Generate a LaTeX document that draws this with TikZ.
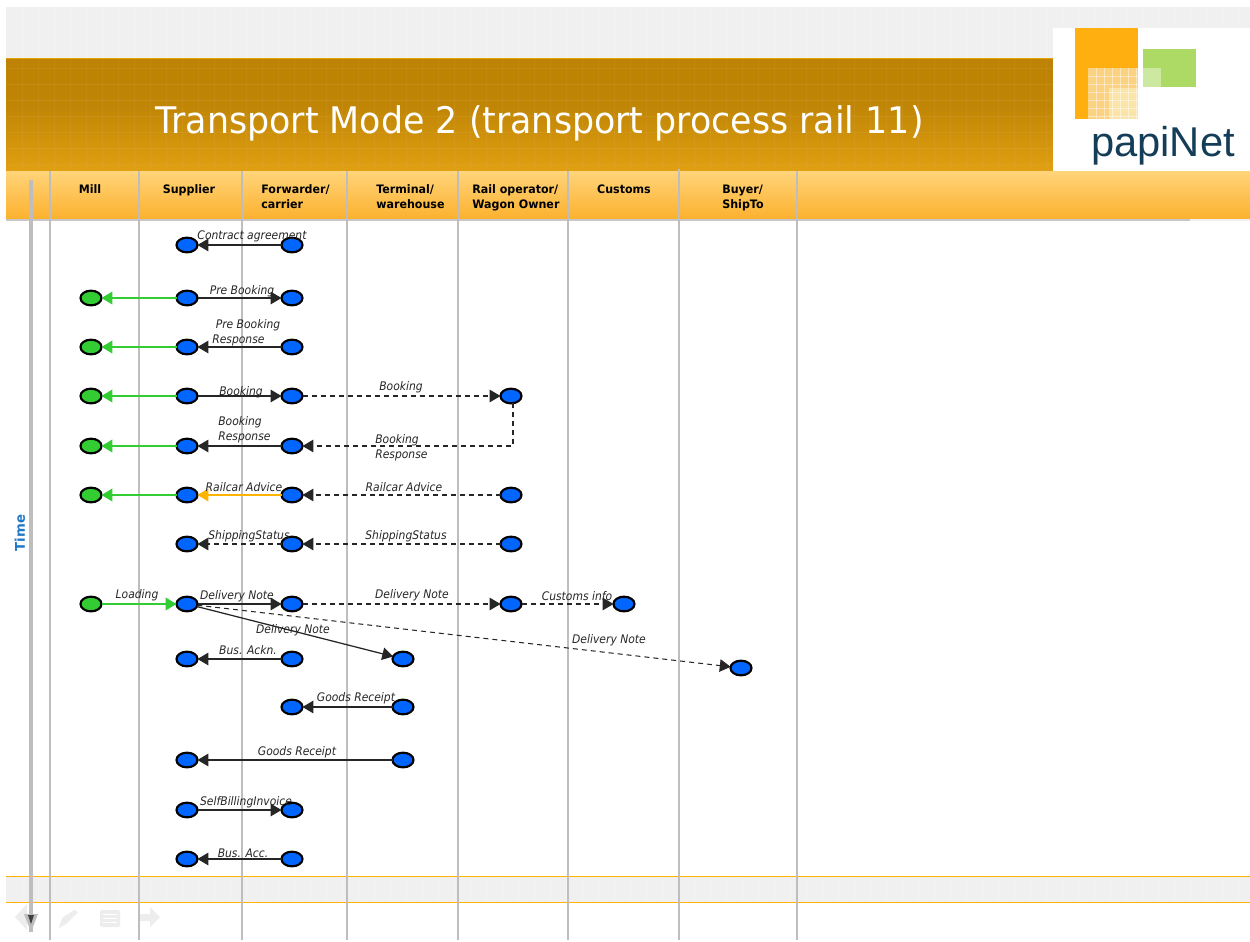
\documentclass[tikz,border=0pt]{standalone}
\usepackage{fontspec}
\setmainfont{DejaVu Sans}
\newfontfamily\titlefont[FakeStretch=0.95]{DejaVu Sans}
\newfontfamily\headfont[FakeStretch=0.95]{DejaVu Sans}
\newfontfamily\labelfont[FakeStretch=0.91]{DejaVu Sans}
\newfontfamily\logofont{Liberation Sans}
\usetikzlibrary{arrows.meta,calc,shapes.geometric}
\definecolor{bandgray}{HTML}{F0F0F0}
\definecolor{lifegray}{HTML}{BEBEBE}
\definecolor{nodeblue}{HTML}{0066FF}
\definecolor{nodegreen}{HTML}{33CC33}
\definecolor{msgorange}{HTML}{FFB400}
\definecolor{timeblue}{HTML}{1F78C8}
\tikzset{
  x=0.6pt,y=-0.6pt,
  blue node/.style={ellipse,draw=black,fill=nodeblue,line width=1.3pt,minimum width=12.6pt,minimum height=8.8pt,inner sep=0pt,outer sep=0pt},
  green node/.style={blue node,fill=nodegreen},
  msg/.style={draw=black!85,line width=0.75pt,-{Triangle[length=6.5pt,width=7.5pt]}},
  dmsg/.style={msg,line width=0.62pt,dash pattern=on 3pt off 2.4pt},
  gmsg/.style={draw=nodegreen,line width=1.2pt,-{Triangle[length=6.5pt,width=7.5pt]}},
  omsg/.style={draw=msgorange,line width=1.2pt,-{Triangle[length=6.5pt,width=7.5pt]}},
  lbl/.style={font=\labelfont\fontsize{7.1pt}{9pt}\selectfont\itshape,text=black!85,inner sep=0pt},
  lbll/.style={lbl,anchor=north west,align=left},
  hdr/.style={font=\headfont\fontsize{7pt}{9pt}\selectfont\bfseries,text=black,inner sep=0pt,align=left},
  life/.style={draw=lifegray,line width=1.2pt},
}
\begin{document}
\begin{tikzpicture}
\useasboundingbox (0,0) rectangle (1250,941);
\fill[white] (0,0) rectangle (1250,941);
% bands
\fill[bandgray] (6,7) rectangle (1250,58);
\fill[bandgray] (6,876) rectangle (1250,902);
\fill[black!22] (6,218) rectangle (1190,221);
\fill[bandgray] (1190,218) rectangle (1250,221);
\fill[color=msgorange] (6,875.5) rectangle (1250,876.5);
\fill[color=msgorange] (6,901.5) rectangle (1250,902.5);
\fill[color=msgorange!90!black] (6,57.5) rectangle (1053,59);
\shade[top color={rgb,255:red,190;green,130;blue,4},bottom color={rgb,255:red,192;green,133;blue,5}] (6,59) rectangle (1053,105);
\shade[top color={rgb,255:red,192;green,133;blue,5},bottom color={rgb,255:red,225;green,160;blue,18}] (6,105) rectangle (1053,171);
\shade[top color={rgb,255:red,255;green,212;blue,122},bottom color={rgb,255:red,252;green,178;blue,48}] (6,171) rectangle (1250,218);
% faint texture
\foreach \gx in {22,38,...,1050} {\draw[white,opacity=.05,line width=.4pt] (\gx,59) -- (\gx,171);}
\foreach \gy in {68,84,...,170} {\draw[white,opacity=.05,line width=.4pt] (6,\gy) -- (1053,\gy);}
\foreach \gx in {22,38,...,1250} {\draw[white,opacity=.3,line width=.4pt] (\gx,7) -- (\gx,58);\draw[white,opacity=.3,line width=.4pt] (\gx,877) -- (\gx,901);}
% logo
\fill[white] (1053,28) rectangle (1250,170);
\fill[color={rgb,255:red,255;green,176;blue,16}] (1075,28) rectangle (1138,119);
\fill[color={rgb,255:red,172;green,218;blue,100}] (1143,49) rectangle (1196,87);
\fill[color={rgb,255:red,250;green,210;blue,130}] (1088,68) rectangle (1138,119);
\fill[color={rgb,255:red,250;green,228;blue,170}] (1109,88) rectangle (1138,119);
\fill[color={rgb,255:red,205;green,232;blue,160}] (1143,68) rectangle (1161,87);
\foreach \gx in {1096,1104,...,1136} {\draw[white,opacity=.45,line width=.3pt] (\gx,68) -- (\gx,119);}
\foreach \gy in {76,84,...,116} {\draw[white,opacity=.45,line width=.3pt] (1088,\gy) -- (1138,\gy);}
\node[font=\logofont\fontsize{25pt}{26pt}\selectfont,text={rgb,255:red,20;green,62;blue,88},inner sep=0pt] (logotext) at (1163,146) {papiNet};
% title
\node[font=\titlefont\fontsize{22pt}{26pt}\selectfont,text=white,inner sep=0pt,anchor=base west] (title) at (155,133) {Transport Mode 2 (transport process rail 11)};
% headers
\node[hdr,anchor=base] (hMill) at (90,193) {Mill};
\node[hdr,anchor=base] (hSup) at (189,193) {Supplier};
\node[hdr,anchor=base west] (hFor) at (261,208) {Forwarder/\\carrier};
\node[hdr,anchor=base west] (hTer) at (376,208) {Terminal/\\warehouse};
\node[hdr,anchor=base west] (hRail) at (472,208) {Rail operator/\\Wagon Owner};
\node[hdr,anchor=base] (hCus) at (624,193) {Customs};
\node[hdr,anchor=base west] (hBuy) at (722,208) {Buyer/\\ShipTo};
% nav icons
\fill[black!7] (15,917) -- (27,904) -- (27,930) -- cycle;
\fill[black!7] (59,928) -- (62,918) -- (74,910) -- (78,912) -- (66,924) -- cycle;
\fill[black!7,rounded corners=1pt] (100,910) rectangle (120,927);
\foreach \gy in {914,918,922} {\draw[white,line width=.5pt] (103,\gy) -- (117,\gy);}
\fill[black!7] (140,914) -- (150,914) -- (150,907) -- (160,917) -- (150,927) -- (150,921) -- (140,921) -- cycle;
% lifelines
\foreach \lx/\ltop in {50/171,139/171,242/171,347/171,458/171,568/171,679/169,797/171} {
  \draw[life] (\lx,\ltop) -- (\lx,940);
}
% time axis
\coordinate (timeA) at (31,180);
\coordinate (timeB) at (31,932);
\draw[lifegray,line width=2pt] (timeA) -- (timeB);
\fill[lifegray] (24,914) -- (38,914) -- (31,932) -- cycle;
\fill[black!75] (28,915) -- (34,915) -- (31,924) -- cycle;
\node[rotate=90,font=\fontsize{8pt}{10pt}\selectfont\bfseries,text=timeblue,inner sep=0pt] (time) at (20,533) {Time};
% nodes
\node[blue node] (s1) at (187,245) {};
\node[blue node] (f1) at (292,245) {};
\node[green node] (m2) at (91,298) {};
\node[blue node] (s2) at (187,298) {};
\node[blue node] (f2) at (292,298) {};
\node[green node] (m3) at (91,347) {};
\node[blue node] (s3) at (187,347) {};
\node[blue node] (f3) at (292,347) {};
\node[green node] (m4) at (91,396) {};
\node[blue node] (s4) at (187,396) {};
\node[blue node] (f4) at (292,396) {};
\node[blue node] (r4) at (511,396) {};
\node[green node] (m5) at (91,446) {};
\node[blue node] (s5) at (187,446) {};
\node[blue node] (f5) at (292,446) {};
\node[green node] (m6) at (91,495) {};
\node[blue node] (s6) at (187,495) {};
\node[blue node] (f6) at (292,495) {};
\node[blue node] (r6) at (511,495) {};
\node[blue node] (s7) at (187,544) {};
\node[blue node] (f7) at (292,544) {};
\node[blue node] (r7) at (511,544) {};
\node[green node] (m8) at (91,604) {};
\node[blue node] (s8) at (187,604) {};
\node[blue node] (f8) at (292,604) {};
\node[blue node] (r8) at (511,604) {};
\node[blue node] (c8) at (624,604) {};
\node[blue node] (b8) at (741,668) {};
\node[blue node] (t9) at (403,659) {};
\node[blue node] (s9) at (187,659) {};
\node[blue node] (f9) at (292,659) {};
\node[blue node] (f10) at (292,707) {};
\node[blue node] (t10) at (403,707) {};
\node[blue node] (s11) at (187,760) {};
\node[blue node] (t11) at (403,760) {};
\node[blue node] (s12) at (187,810) {};
\node[blue node] (f12) at (292,810) {};
\node[blue node] (s13) at (187,859) {};
\node[blue node] (f13) at (292,859) {};
% connectors
\draw[msg] (f1) -- (s1);
\draw[gmsg] (s2) -- (m2);
\draw[msg] (s2) -- (f2);
\draw[gmsg] (s3) -- (m3);
\draw[msg] (f3) -- (s3);
\draw[gmsg] (s4) -- (m4);
\draw[msg] (s4) -- (f4);
\draw[dmsg] (f4) -- (r4);
\draw[gmsg] (s5) -- (m5);
\draw[msg] (f5) -- (s5);
\draw[dmsg] ([xshift=1.2pt]r4.south) |- (f5);
\draw[gmsg] (s6) -- (m6);
\draw[omsg] (f6) -- (s6);
\draw[dmsg] (r6) -- (f6);
\draw[dmsg] (f7) -- (s7);
\draw[dmsg] (r7) -- (f7);
\draw[gmsg] (m8) -- (s8);
\draw[msg] (s8) -- (f8);
\draw[dmsg] (f8) -- (r8);
\draw[dmsg] (r8) -- (c8);
\draw[msg] (s8) -- (t9);
\draw[dmsg] (s8) -- (b8);
\draw[msg] (f9) -- (s9);
\draw[msg] (t10) -- (f10);
\draw[msg] (t11) -- (s11);
\draw[msg] (s12) -- (f12);
\draw[msg] (f13) -- (s13);
% labels
\node[lbl] (l1) at (252,236) {Contract agreement};
\node[lbl] (l2) at (242,291) {Pre Booking};
\node[lbll] (l3) at (212,319) {\ Pre Booking\\Response};
\node[lbl] (l4) at (241,392) {Booking};
\node[lbl] (l4b) at (401,387) {Booking};
\node[lbll] (l5) at (218,416) {Booking\\Response};
\node[lbll] (l5b) at (375,434) {Booking\\Response};
\node[lbl] (l6) at (244,487) {Railcar Advice};
\node[lbl] (l6b) at (404,487) {Railcar Advice};
\node[lbl] (l7) at (249,536) {ShippingStatus};
\node[lbl] (l7b) at (406,536) {ShippingStatus};
\node[lbl] (l8) at (137,595) {Loading};
\node[lbl] (l8b) at (237,596) {Delivery Note};
\node[lbl] (l8c) at (412,595) {Delivery Note};
\node[lbl] (l8d) at (577,596) {Customs info};
\node[lbl] (l8e) at (293,630) {Delivery Note};
\node[lbl] (l8f) at (609,640) {Delivery Note};
\node[lbl] (l9) at (248,650) {Bus. Ackn.};
\node[lbl] (l10) at (356,698) {Goods Receipt};
\node[lbl] (l11) at (297,752) {Goods Receipt};
\node[lbl] (l12) at (246,802) {SelfBillingInvoice};
\node[lbl] (l13) at (243,853) {Bus. Acc.};
\end{tikzpicture}
\end{document}
